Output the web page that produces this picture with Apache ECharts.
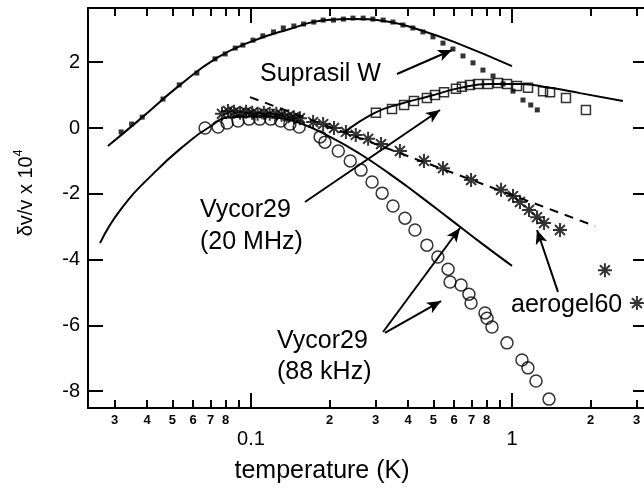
<!DOCTYPE html>
<html>
<head>
<meta charset="utf-8">
<script src="https://cdn.jsdelivr.net/npm/echarts@6/dist/echarts.min.js"></script>
<style>
  html, body { margin: 0; padding: 0; background: #fff; }
  #chart { width: 644px; height: 489px; }
</style>
</head>
<body>
<div id="chart"></div>
<script>
// Suprasil W (small filled squares) and its fit
const supT = [0.0318, 0.0349, 0.0383, 0.046, 0.0531, 0.062, 0.0728, 0.0796, 0.087, 0.0931, 0.1018, 0.111, 0.122, 0.133, 0.146, 0.159, 0.174, 0.189, 0.207, 0.226, 0.246, 0.269, 0.293, 0.321, 0.35, 0.382, 0.417, 0.456, 0.498, 0.544, 0.594, 0.649, 0.709, 0.774, 0.846, 0.924, 1.009, 1.102, 1.18, 1.25];
const supV = [-0.12, 0.12, 0.33, 0.88, 1.31, 1.67, 2.1, 2.25, 2.43, 2.52, 2.67, 2.8, 2.92, 3.04, 3.1, 3.16, 3.22, 3.28, 3.28, 3.31, 3.34, 3.34, 3.31, 3.28, 3.22, 3.13, 3.04, 2.92, 2.77, 2.58, 2.4, 2.19, 1.98, 1.76, 1.58, 1.34, 1.12, 0.85, 0.7, 0.55];
const supFitT = [0.0283, 0.0376, 0.0535, 0.074, 0.099, 0.137, 0.196, 0.246, 0.341, 0.444, 0.616, 1.0];
const supFitV = [-0.55, 0.27, 1.31, 2.13, 2.61, 2.98, 3.28, 3.31, 3.22, 2.98, 2.58, 1.88];

// Vycor29 20 MHz (open squares) and its fit
const v20T = [0.301, 0.347, 0.386, 0.421, 0.472, 0.507, 0.549, 0.61, 0.643, 0.69, 0.741, 0.809, 0.884, 0.957, 1.045, 1.152, 1.315, 1.399, 1.61, 1.92];
const v20V = [0.46, 0.58, 0.70, 0.82, 0.91, 1.0, 1.09, 1.19, 1.25, 1.31, 1.34, 1.34, 1.37, 1.34, 1.28, 1.22, 1.12, 1.09, 0.91, 0.55];
const v20FitT = [0.229, 0.298, 0.372, 0.485, 0.632, 0.824, 1.073, 1.399, 1.822, 2.66];
const v20FitV = [-0.12, 0.46, 0.73, 0.97, 1.22, 1.34, 1.34, 1.22, 1.06, 0.82];

// Vycor29 88 kHz (open circles) and its fit
const v88T = [0.0667, 0.0748, 0.081, 0.0892, 0.0983, 0.108, 0.119, 0.13, 0.141, 0.153, 0.184, 0.192, 0.216, 0.24, 0.264, 0.291, 0.318, 0.35, 0.389, 0.425, 0.472, 0.52, 0.569, 0.579, 0.638, 0.684, 0.697, 0.788, 0.802, 0.838, 0.957, 1.092, 1.151, 1.236, 1.386];
const v88V = [0, 0.03, 0.15, 0.21, 0.27, 0.27, 0.27, 0.21, 0.12, 0.03, -0.27, -0.43, -0.7, -1.0, -1.28, -1.64, -1.98, -2.37, -2.74, -3.1, -3.56, -3.92, -4.29, -4.68, -4.77, -5.05, -5.32, -5.62, -5.78, -6.05, -6.53, -7.05, -7.29, -7.69, -8.24];
const v88FitT = [0.0264, 0.0316, 0.0428, 0.0575, 0.0684, 0.0831, 0.113, 0.129, 0.154, 0.201, 0.262, 0.341, 0.444, 0.579, 0.754, 1.0];
const v88FitV = [-3.5, -2.49, -1.34, -0.43, 0.0, 0.33, 0.36, 0.3, 0.15, -0.27, -0.79, -1.4, -2.07, -2.77, -3.47, -4.19];

// aerogel60 (asterisks) and its dashed fit
const aeroT = [0.0774, 0.0816, 0.0861, 0.0908, 0.0957, 0.101, 0.106, 0.112, 0.118, 0.125, 0.131, 0.139, 0.146, 0.154, 0.173, 0.189, 0.208, 0.231, 0.252, 0.281, 0.315, 0.372, 0.46, 0.544, 0.697, 0.908, 1.009, 1.073, 1.162, 1.247, 1.327, 1.527, 2.27, 3.01];
const aeroV = [0.43, 0.52, 0.49, 0.46, 0.49, 0.46, 0.43, 0.46, 0.43, 0.43, 0.40, 0.36, 0.33, 0.30, 0.18, 0.12, 0, -0.12, -0.21, -0.33, -0.49, -0.70, -1.0, -1.22, -1.58, -1.88, -2.07, -2.25, -2.49, -2.71, -2.89, -3.10, -4.32, -5.32];
const aeroFitT = [0.0991, 2.08];
const aeroFitV = [0.94, -2.98];

// annotation arrows, [T, v] of tail and tip
const arrowFrom = [[0.3625, 1.64], [0.161, -2.25], [0.3206, -6.2], [0.326, -6.23], [1.5, -4.98]];
const arrowTo = [[0.589, 2.37], [0.53, 0.547], [0.632, -3.04], [0.535, -5.26], [1.247, -3.1]];

// axes
const xMin = 0.02374, xMax = 3.233;
const yMin = -8.51, yMax = 3.647;
const yTicks = [-8, -6, -4, -2, 0, 2];
const xMinorTicks = [0.03, 0.04, 0.05, 0.06, 0.07, 0.08, 0.09, 0.2, 0.3, 0.4, 0.5, 0.6, 0.7, 0.8, 0.9, 2, 3];
const xMinorLabels = [0.03, 0.04, 0.05, 0.06, 0.07, 0.08, 0.2, 0.3, 0.4, 0.5, 0.6, 0.7, 0.8, 2, 3];
const xMajorTicks = [0.1, 1];
const xMajorLabels = ['0.1', '1'];

const FONT = 'Liberation Sans';
const zip = (a, b) => a.map((x, i) => [x, b[i]]);
const lg = Math.log10;
const tickStyle = { color: '#000', width: 2 };

function helperX(pos, ticks, len, labels) {
  return {
    type: 'value', position: pos, min: lg(xMin), max: lg(xMax),
    axisLine: { show: false, onZero: false },
    axisTick: { show: true, inside: true, length: len, customValues: ticks.map(lg), lineStyle: tickStyle },
    axisLabel: labels || { show: false },
    splitLine: { show: false }
  };
}

const chart = echarts.init(document.getElementById('chart'));
chart.setOption({
  animation: false,
  textStyle: { fontFamily: FONT, color: '#000' },
  grid: { left: 88, top: 8, width: 557, height: 400, containLabel: false, outerBoundsMode: 'none' },
  xAxis: [
    {
      type: 'log', logBase: 10, min: xMin, max: xMax, position: 'bottom',
      axisLine: { show: true, onZero: false, lineStyle: tickStyle },
      axisTick: { show: false }, axisLabel: { show: false },
      splitLine: { show: false }, minorTick: { show: false }
    },
    helperX('bottom', xMinorTicks, 8, {
      show: true, customValues: xMinorLabels.map(lg), margin: 6, fontSize: 13, fontWeight: 'bold', color: '#000', fontFamily: FONT,
      formatter: v => String(Math.round(Math.pow(10, v) / Math.pow(10, Math.floor(v + 1e-9))))
    }),
    helperX('bottom', xMajorTicks, 15, {
      show: true, customValues: xMajorTicks.map(lg), margin: 21, fontSize: 20, color: '#000', fontFamily: FONT,
      formatter: v => xMajorLabels[v < -0.5 ? 0 : 1]
    }),
    Object.assign(helperX('top', xMinorTicks, 8), { axisLine: { show: true, onZero: false, lineStyle: tickStyle } }),
    helperX('top', xMajorTicks, 15)
  ],
  yAxis: [
    {
      type: 'value', position: 'left', min: yMin, max: yMax,
      axisLine: { show: true, onZero: false, lineStyle: tickStyle },
      axisTick: { show: true, inside: true, length: 15, customValues: yTicks, lineStyle: tickStyle },
      axisLabel: { show: true, customValues: yTicks, fontSize: 20, margin: 8, color: '#000', fontFamily: FONT },
      splitLine: { show: false }
    },
    {
      type: 'value', position: 'right', min: yMin, max: yMax,
      axisLine: { show: true, onZero: false, lineStyle: tickStyle },
      axisTick: { show: true, inside: true, length: 12, customValues: yTicks, lineStyle: tickStyle },
      axisLabel: { show: false },
      splitLine: { show: false }
    }
  ],
  series: [
    {
      type: 'line', data: zip(supFitT, supFitV), smooth: true, symbol: 'none',
      lineStyle: { color: '#000', width: 2 }
    },
    {
      type: 'line', data: zip(v88FitT, v88FitV), smooth: true, symbol: 'none',
      lineStyle: { color: '#000', width: 2 }
    },
    {
      type: 'line', data: zip(v20FitT, v20FitV), smooth: true, symbol: 'none',
      lineStyle: { color: '#000', width: 2 }
    },
    {
      type: 'line', data: zip(aeroFitT, aeroFitV), symbol: 'none',
      lineStyle: { color: '#000', width: 2, type: [9, 7] }
    },
    {
      type: 'scatter', data: zip(supT, supV), symbol: 'rect', symbolSize: 5,
      itemStyle: { color: '#000' }
    },
    {
      type: 'scatter', data: zip(v20T, v20V), symbol: 'rect', symbolSize: 9,
      itemStyle: { color: 'transparent', borderColor: '#000', borderWidth: 1.5 }
    },
    {
      type: 'scatter', data: zip(v88T, v88V), symbol: 'circle', symbolSize: 12,
      itemStyle: { color: 'transparent', borderColor: '#000', borderWidth: 1.5 },
      markLine: {
        silent: true, symbol: ['none', 'arrow'], symbolSize: [9, 14],
        label: { show: false },
        lineStyle: { color: '#000', width: 2, type: 'solid' },
        data: arrowFrom.map((p, i) => [{ coord: p }, { coord: arrowTo[i] }])
      }
    },
    {
      type: 'scatter', data: zip(aeroT, aeroV), symbolSize: 14,
      symbol: 'path://M10,0L10,20M0,10L20,10M2.93,2.93L17.07,17.07M2.93,17.07L17.07,2.93',
      itemStyle: { color: 'transparent', borderColor: '#000', borderWidth: 2 }
    }
  ],
  graphic: [
    { type: 'text', left: 260, top: 62, style: { text: 'Suprasil W', font: '25px "Liberation Sans"', fill: '#000' } },
    { type: 'text', left: 200, top: 194, style: { text: 'Vycor29\n(20 MHz)', font: '25px "Liberation Sans"', lineHeight: 32, fill: '#000' } },
    { type: 'text', left: 277, top: 326, style: { text: 'Vycor29\n(88 kHz)', font: '25px "Liberation Sans"', lineHeight: 31, fill: '#000' } },
    { type: 'text', left: 511, top: 293, style: { text: 'aerogel60', font: '25px "Liberation Sans"', fill: '#000' } },
    { type: 'text', left: 'center', top: 459, style: { text: 'temperature (K)', font: '25px "Liberation Sans"', fill: '#000' } },
    {
      type: 'text', x: 26, y: 193, rotation: Math.PI / 2,
      style: {
        text: '{a|δv/v x 10}{s|4}', align: 'center', verticalAlign: 'middle',
        rich: {
          a: { fontSize: 20, fontFamily: FONT, fill: '#000', lineHeight: 26, verticalAlign: 'middle' },
          s: { fontSize: 12, fontFamily: FONT, fill: '#000', lineHeight: 26, verticalAlign: 'top' }
        }
      }
    }
  ]
});
</script>
</body>
</html>
